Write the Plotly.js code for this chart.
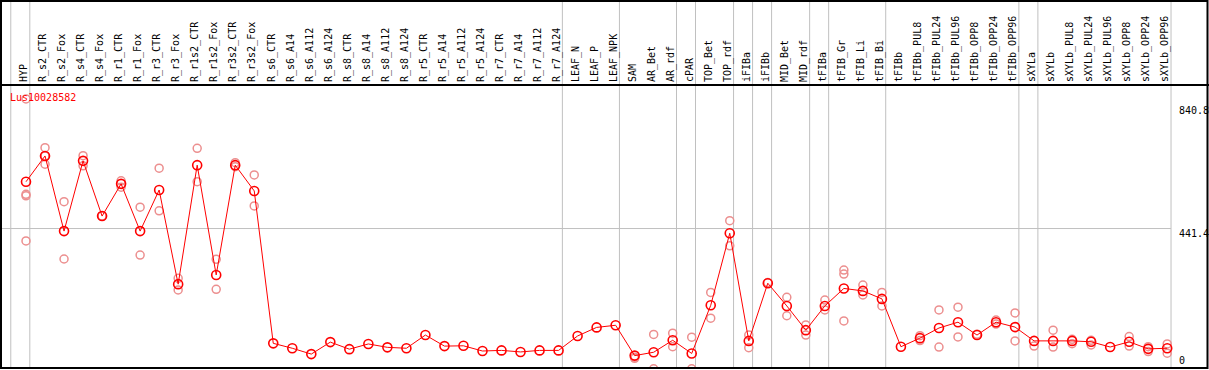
<!DOCTYPE html>
<html>
<head>
<meta charset="utf-8">
<script src="https://cdn.plot.ly/plotly-3.0.1.min.js"></script>
<style>
html,body{margin:0;padding:0;background:#fff;}
#chart{width:1209px;height:370px;}
</style>
</head>
<body>
<div id="chart"></div>
<script>
var geneName = "Lus10028582";

var categories = ["HYP","R_s2_CTR","R_s2_Fox","R_s4_CTR","R_s4_Fox","R_r1_CTR","R_r1_Fox","R_r3_CTR","R_r3_Fox",
  "R_r1s2_CTR","R_r1s2_Fox","R_r3s2_CTR","R_r3s2_Fox",
  "R_s6_CTR","R_s6_A14","R_s6_A112","R_s6_A124","R_s8_CTR","R_s8_A14","R_s8_A112","R_s8_A124",
  "R_r5_CTR","R_r5_A14","R_r5_A112","R_r5_A124","R_r7_CTR","R_r7_A14","R_r7_A112","R_r7_A124",
  "LEAF_N","LEAF_P","LEAF_NPK","SAM","AR_Bet","AR_rdf","cPAR","TOP_Bet","TOP_rdf","iFIBa","iFIBb",
  "MID_Bet","MID_rdf","tFIBa","tFIB_Gr","tFIB_Li","tFIB_Bi","tFIBb",
  "tFIBb_PUL8","tFIBb_PUL24","tFIBb_PUL96","tFIBb_OPP8","tFIBb_OPP24","tFIBb_OPP96",
  "sXYLa","sXYLb","sXYLb_PUL8","sXYLb_PUL24","sXYLb_PUL96","sXYLb_OPP8","sXYLb_OPP24","sXYLb_OPP96"];

var meanValues = [594,678,433,662,482,587,433,567,260,648,290,648,564,
  67,51,32,71,48,65,54,51,94,58,59,42,44,39,44,44,
  91,119,126,27,38,77,34,191,426,75,263,189,110,189,246,238,212,56,
  84,117,136,94,136,120,75,75,75,72,55,72,49,51];

var replicateValues = [
  [864,553,548,401],[705,651,678],[529,342],[679,646],[482],[597,576],[511,355],[638,499],[279,241],
  [703,594],[341,243],[656,643],[616,515],
  [],[],[],[],[],[],[],[],[],[],[],[],[],[],[],[],
  [],[],[],[18,22],[96,-16],[100,56],[87,-16],[233,149],[467,385],[94,53],[265],[217,157],[127,94],
  [208,176],[306,293,140],[257,225],[233,189],[],
  [92,76],[176,55],[185,88],[97],[143,130],[166,75],[58],[110,55],[80,66],[77,62],[],[89,58],[56,40],[65,35]
];

var groupBreaks = [-1,0,28,31,34,35,37,38,39,41,42,45,52,53,60];
var yTickValues = [0,441.4,840.8];
var yRange = [-13.4,909.4];
var xRange = [-1.367,62.197];

var idx = categories.map(function(_,i){return i;});
var repX = [], repY = [];
replicateValues.forEach(function(arr,i){arr.forEach(function(v){repX.push(i);repY.push(v);});});

var traces = [
  {x:repX,y:repY,type:'scatter',mode:'markers',hoverinfo:'skip',
   marker:{symbol:'circle-open',size:8,color:'#ec8f8f',line:{width:1.5,color:'#ec8f8f'}},cliponaxis:true},
  {x:idx,y:meanValues,type:'scatter',mode:'lines+markers',
   line:{color:'#ff0000',width:1},
   marker:{symbol:'circle-open',size:9,color:'#ff0000',line:{width:1.6,color:'#ff0000'}}}
];

var topPaper = (368-1)/283;
var shapes = [];
groupBreaks.forEach(function(b){
  shapes.push({type:'line',xref:'x',yref:'paper',x0:b+0.2,x1:b+0.2,y0:0,y1:topPaper,
    line:{color:'#c0c0c0',width:1},layer:'below'});
});
shapes.push({type:'line',xref:'x',yref:'y',x0:xRange[0],x1:groupBreaks[groupBreaks.length-1]+0.2,
  y0:yTickValues[1],y1:yTickValues[1],line:{color:'#c0c0c0',width:1},layer:'below'});
// frame
shapes.push({type:'rect',xref:'paper',yref:'paper',x0:1/1209,x1:1207.5/1209,y0:0,y1:topPaper,
  line:{color:'#000',width:2},fillcolor:'rgba(0,0,0,0)'});
shapes.push({type:'line',xref:'paper',yref:'paper',x0:0,x1:1,y0:1,y1:1,line:{color:'#000',width:2}});

var annotations = yTickValues.map(function(v,k){
  return {xref:'paper',yref:'y',x:1177/1209,y:v,text:String(v),showarrow:false,
    xanchor:'left',yanchor:(v===0?'bottom':'top'),yshift:(v===0?-4:3),
    font:{family:'DejaVu Sans Mono',size:10,color:'#000'}};
});

var layout = {
  width:1209,height:370,
  margin:{l:0,r:0,t:85,b:2,pad:0},
  paper_bgcolor:'#fff',plot_bgcolor:'#fff',
  showlegend:false,
  title:{text:geneName,x:10/1209,xanchor:'left',xref:'paper',y:1-97/370,yanchor:'middle',
    font:{family:'DejaVu Sans Mono',size:10,color:'#ff0000'}},
  xaxis:{range:xRange,side:'top',tickmode:'array',tickvals:idx,ticktext:categories,tickangle:-90,
    ticks:'',ticklabelstandoff:2,ticklabelshift:-2,showgrid:false,zeroline:false,showline:false,
    tickfont:{family:'DejaVu Sans Mono',size:10,color:'#000'}},
  yaxis:{range:yRange,showgrid:false,zeroline:false,showline:false,showticklabels:false,ticks:''},
  shapes:shapes,
  annotations:annotations
};

Plotly.newPlot('chart',traces,layout,{staticPlot:true,displayModeBar:false});
</script>
</body>
</html>
